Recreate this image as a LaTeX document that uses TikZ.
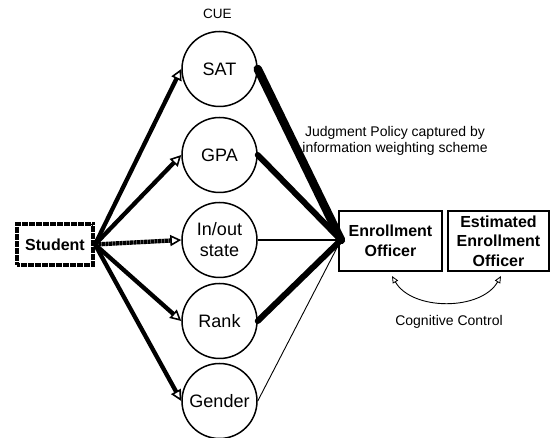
\documentclass[tikz,border=0pt]{standalone}
\usepackage{fontspec}
\setmainfont{Liberation Sans}
\usetikzlibrary{arrows.meta}
\begin{document}
\begin{tikzpicture}[x=1pt,y=-1pt,
  cue/.style={circle,draw,line width=1.5pt,minimum size=75pt,inner sep=0pt,
    font=\fontsize{18}{21}\selectfont,align=center},
  box/.style={rectangle,draw,line width=2pt,inner sep=0pt,
    font=\fontsize{16}{19.5}\selectfont\bfseries,align=center},
  rough/.style={dash pattern=on 3pt off 0.5pt},
  feed/.style={line width=4.3pt,-{Triangle[open,length=11pt,width=11pt,line width=1.6pt]}},
  wt/.style={line cap=round},
  lbl/.style={font=\fontsize{14}{15.5}\selectfont,align=center,inner sep=0pt}]
\useasboundingbox (0,0) rectangle (550,438);
\node[box,line width=4pt,rough,minimum width=76pt,minimum height=41pt] (stu) at (55,244.5) {Student};
\node[cue] (sat) at (219.5,69) {SAT};
\node[cue] (gpa) at (219.5,155) {GPA};
\node[cue] (ios) at (219.5,240) {In/out\\state};
\node[cue] (rank) at (219.5,321) {Rank};
\node[cue] (gen) at (219.5,401) {Gender};
\node[box,minimum width=103pt,minimum height=60pt] (eo) at (390.5,241) {Enrollment\\Officer};
\node[box,minimum width=101pt,minimum height=60pt] (eeo) at (498.5,241) {Estimated\\Enrollment\\Officer};
\node[lbl,font=\fontsize{13.5}{15}\selectfont] (cue) at (217.5,13.5) {CUE};
\node[lbl] (jp) at (395,141) {Judgment Policy captured by\\information weighting scheme};
\node[lbl] (cc) at (449,322) {Cognitive Control};
\coordinate (conv) at (341,240);
% feeds
\draw[feed] (stu.east) -- (sat.west);
\draw[feed] (stu.east) -- (gpa.west);
\draw[feed,rough] (stu.east) -- (ios.west);
\draw[feed] (stu.east) -- (rank.west);
\draw[feed] (stu.east) -- (gen.west);
% weights
\draw[wt,line width=8.5pt] (sat.east) -- (conv);
\draw[wt,line width=6pt] (gpa.east) -- (conv);
\draw[line width=2pt] (ios.east) -- (conv);
\draw[wt,line width=6pt] (rank.east) -- (conv);
\draw[line width=0.9pt] (gen.east) -- (conv);
% cognitive control
\coordinate (c1) at (392,276);
\coordinate (c2) at (501,276);
\draw[line width=0.9pt,{Triangle[open,length=7pt,width=6pt,line width=0.8pt]}-{Triangle[open,length=7pt,width=6pt,line width=0.8pt]}]
  (c1) .. controls (412,311) and (481,311) .. (c2);
\end{tikzpicture}
\end{document}
